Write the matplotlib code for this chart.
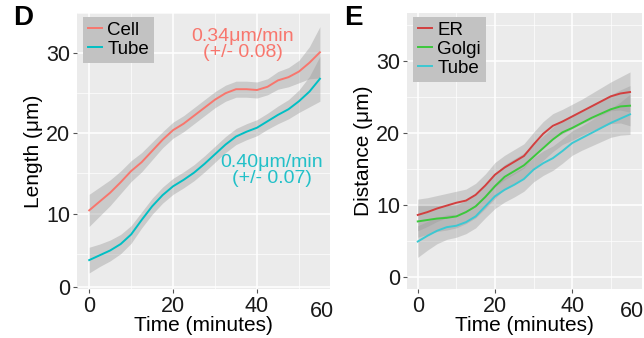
import matplotlib.pyplot as plt
import matplotlib.transforms as mtransforms
import numpy as np

plt.rcParams['font.family'] = ['Liberation Sans', 'DejaVu Sans']

# panel D: length over time
d_time = [0, 2.5, 5, 7.5, 10, 12.5, 15, 17.5, 20, 22.5, 25, 27.5, 30, 32.5, 35,
          37.5, 40, 42.5, 45, 47.5, 50, 52.5, 55]
d_cell = [10.4, 11.5, 12.6, 13.9, 15.3, 16.4, 17.8, 19.2, 20.4, 21.2, 22.2, 23.2,
          24.2, 25.0, 25.5, 25.5, 25.4, 25.8, 26.6, 27.0, 27.7, 28.8, 30.1]
d_cell_se = [2.0, 1.8, 1.6, 1.4, 1.3, 1.2, 1.1, 1.0, 1.0, 1.0, 1.0, 1.0, 1.0, 1.0,
             1.0, 1.0, 1.0, 1.0, 1.1, 1.2, 1.4, 2.0, 3.2]
d_tube = [4.2, 4.8, 5.4, 6.2, 7.4, 9.2, 10.9, 12.3, 13.4, 14.2, 15.1, 16.2, 17.4,
          18.6, 19.6, 20.2, 20.7, 21.5, 22.3, 23.0, 24.0, 25.2, 26.8]
d_tube_se = [1.6, 1.4, 1.3, 1.2, 1.1, 1.0, 1.0, 1.0, 1.0, 1.0, 1.0, 1.0, 1.0, 1.0,
             1.0, 1.0, 1.0, 1.0, 1.1, 1.2, 1.4, 1.9, 2.8]

# panel E: distance over time
e_time = d_time
e_er = [8.6, 9.0, 9.5, 9.9, 10.3, 10.6, 11.4, 12.7, 14.2, 15.2, 16.0, 16.8, 18.4,
        19.9, 21.0, 21.6, 22.3, 23.0, 23.7, 24.4, 25.1, 25.5, 25.7]
e_golgi = [7.7, 7.9, 8.1, 8.2, 8.4, 9.0, 9.8, 11.1, 12.6, 13.9, 14.7, 15.5, 16.7,
           17.9, 19.1, 20.1, 20.7, 21.4, 22.1, 22.7, 23.3, 23.7, 23.8]
e_tube = [4.9, 5.7, 6.4, 6.9, 7.1, 7.6, 8.4, 9.8, 11.2, 12.1, 12.8, 13.6, 14.9,
          15.8, 16.5, 17.5, 18.6, 19.3, 20.0, 20.7, 21.4, 22.0, 22.6]
e_se = [2.2, 2.0, 1.8, 1.7, 1.6, 1.6, 1.6, 1.6, 1.7, 1.7, 1.7, 1.7, 1.7, 1.7, 1.7,
        1.7, 1.7, 1.7, 1.8, 1.9, 2.0, 2.3, 2.8]

bg = '#EBEBEB'
rib = '#999999'
red_d = '#F8766D'
cyan_d = '#00BFC4'
red_e = '#D23F3F'
green_e = '#3CC83C'
cyan_e = '#3CC8D2'
tick_col = '#1a1a1a'


def style_axes(ax, xlim, ylim, yticks, ylabels, ymin):
    ax.set_facecolor(bg)
    ax.set_xlim(*xlim)
    ax.set_ylim(*ylim)
    ax.set_xticks([0, 20, 40])
    ax.set_xticklabels(['0', '20', '40'])
    ax.set_xticks([10, 30, 50], minor=True)
    ax.set_yticks(yticks)
    ax.set_yticklabels(ylabels)
    ax.set_yticks(ymin, minor=True)
    ax.grid(which='major', color='white', lw=1.1)
    ax.grid(which='minor', color='white', lw=0.5)
    ax.set_axisbelow(True)
    for s in ax.spines.values():
        s.set_visible(False)
    ax.tick_params(which='major', length=3, width=0.8, color='#555555',
                   labelsize=15.5, labelcolor=tick_col, pad=2)
    ax.tick_params(which='minor', length=0)
    ax.set_xlabel('Time (minutes)', fontsize=15, labelpad=-1)
    # the "60" label sits just inside the panel edge
    trans = mtransforms.blended_transform_factory(ax.transData, ax.transAxes)
    ax.text(55.6, -0.045, '60', transform=trans, ha='center', va='top',
            fontsize=15.5, color=tick_col)


def add_legend(ax):
    ax.legend(loc='upper left', bbox_to_anchor=(0.024, 0.985), borderaxespad=0,
              fontsize=13.5, frameon=True, facecolor='#C2C2C2', edgecolor='none',
              framealpha=1, fancybox=False, handlelength=0.75, handletextpad=0.3,
              labelspacing=0.1, borderpad=0.25)


fig = plt.figure(figsize=(6.44, 3.38), dpi=100)
axd = fig.add_axes([0.1196, 0.145, 0.3928, 0.8166])
axe = fig.add_axes([0.6325, 0.145, 0.3644, 0.8166])

# panel D
for vals, se in ((d_cell, d_cell_se), (d_tube, d_tube_se)):
    lo = np.array(vals) - np.array(se)
    hi = np.array(vals) + np.array(se)
    axd.fill_between(d_time, lo, hi, color=rib, alpha=0.4, lw=0)
axd.plot(d_time, d_cell, color=red_d, lw=1.4, label='Cell')
axd.plot(d_time, d_tube, color=cyan_d, lw=1.4, label='Tube')
style_axes(axd, (-2.9, 57.4), (0.6, 35.0), [0.85, 10, 20, 30],
           ['0', '10', '20', '30'], [5, 15, 25, 35])
axd.set_ylabel('Length (\u03bcm)', fontsize=15, labelpad=2)
axd.text(0.655, 0.885, '0.34\u03bcm/min\n(+/- 0.08)', transform=axd.transAxes,
         ha='center', va='center', fontsize=14, color=red_d, linespacing=0.9)
axd.text(0.77, 0.43, '0.40\u03bcm/min\n(+/- 0.07)', transform=axd.transAxes,
         ha='center', va='center', fontsize=14, color='#22C0C8', linespacing=0.9)
add_legend(axd)

# panel E
for vals in (e_er, e_golgi, e_tube):
    lo = np.array(vals) - np.array(e_se)
    hi = np.array(vals) + np.array(e_se)
    axe.fill_between(e_time, lo, hi, color=rib, alpha=0.38, lw=0)
axe.plot(e_time, e_er, color=red_e, lw=1.4, label='ER')
axe.plot(e_time, e_golgi, color=green_e, lw=1.4, label='Golgi')
axe.plot(e_time, e_tube, color=cyan_e, lw=1.4, label='Tube')
style_axes(axe, (-2.7, 58.1), (-1.7, 36.7), [0, 10, 20, 30],
           ['0', '10', '20', '30'], [5, 15, 25, 35])
axe.set_ylabel('Distance (\u03bcm)', fontsize=15, labelpad=2)
add_legend(axe)

fig.text(23 / 644, 1 - 18 / 338, 'D', fontsize=20, fontweight='bold',
         ha='center', va='center')
fig.text(353 / 644, 1 - 18 / 338, 'E', fontsize=20, fontweight='bold',
         ha='center', va='center')

fig.savefig('out.png', dpi=100)
